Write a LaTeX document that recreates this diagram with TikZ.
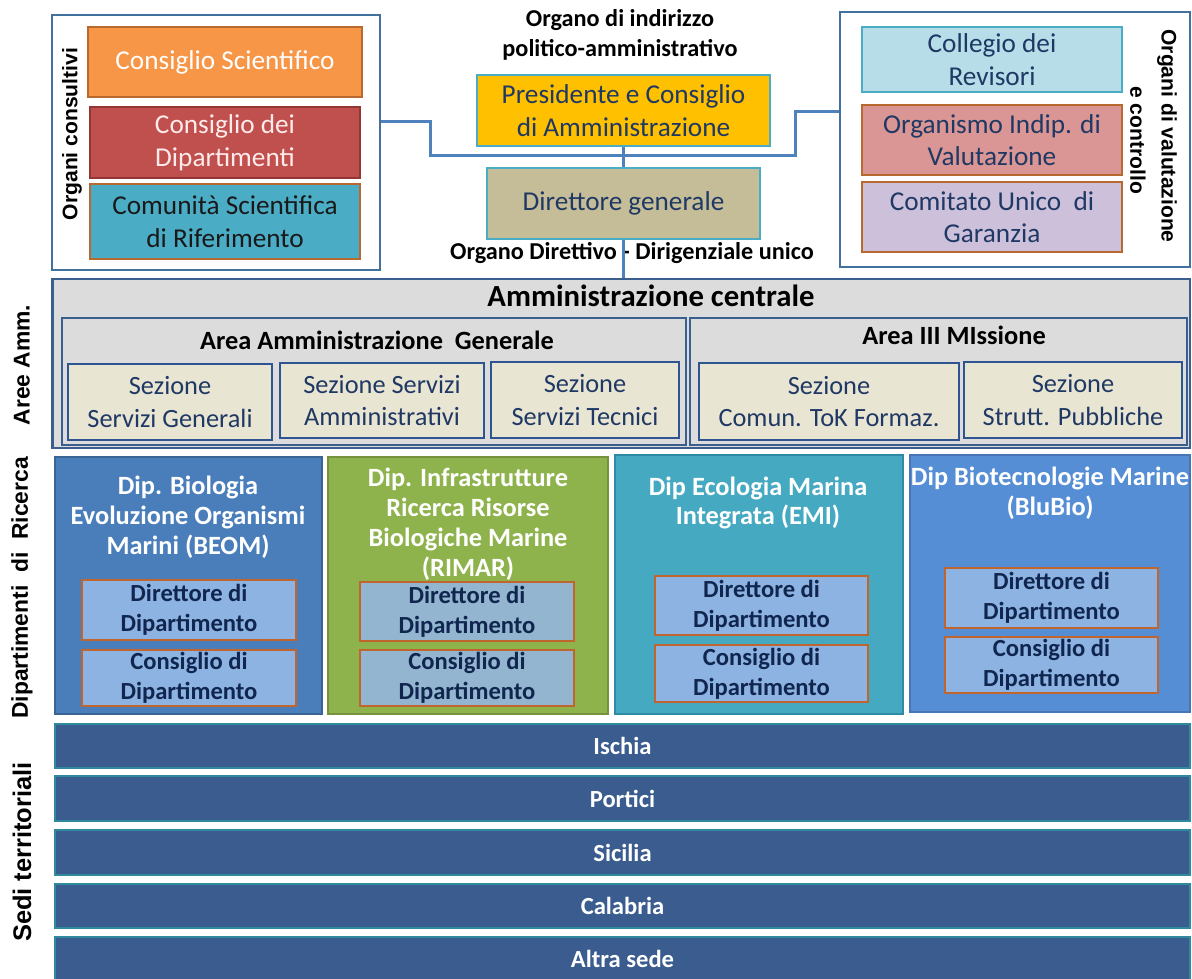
\documentclass[tikz,border=0pt]{standalone}
\usepackage{fontspec}
\setmainfont{Carlito}
\newfontfamily\sidefont{Liberation Sans}

\definecolor{frameblue}{HTML}{41719C}
\definecolor{linkblue}{HTML}{4F81BD}
\definecolor{orangefill}{HTML}{F79646}
\definecolor{brownline}{HTML}{B8692F}
\definecolor{redfill}{HTML}{C0504D}
\definecolor{redline}{HTML}{943634}
\definecolor{tealfill}{HTML}{4BACC6}
\definecolor{cyanfill}{HTML}{B7DEE8}
\definecolor{pinkfill}{HTML}{DA9694}
\definecolor{lavfill}{HTML}{CCC0DA}
\definecolor{goldfill}{HTML}{FFC000}
\definecolor{khakifill}{HTML}{C4BD97}
\definecolor{navytext}{HTML}{1F3864}
\definecolor{ammgray}{HTML}{DCDCDC}
\definecolor{ammline}{HTML}{3A5F8F}
\definecolor{creamfill}{HTML}{E9E5D3}
\definecolor{sezline}{HTML}{2E5491}
\definecolor{beomfill}{HTML}{4A7EBB}
\definecolor{beomline}{HTML}{3A6494}
\definecolor{rimarfill}{HTML}{8FB34C}
\definecolor{rimarline}{HTML}{76923C}
\definecolor{emifill}{HTML}{46A9C2}
\definecolor{emiline}{HTML}{2F8BA3}
\definecolor{blubiofill}{HTML}{558ED5}
\definecolor{blubioline}{HTML}{4676B6}
\definecolor{innerfill}{HTML}{8DB3E2}
\definecolor{innergray}{HTML}{93B5D0}
\definecolor{innerline}{HTML}{C0652D}
\definecolor{innertext}{HTML}{10264F}
\definecolor{sedefill}{HTML}{3A5C8E}
\definecolor{sedeline}{HTML}{2E8A9C}

\tikzset{
  box/.style={draw, line width=1.6pt, align=center, inner sep=0pt},
  topbox/.style={box, font=\fontsize{15.5}{18.5}\selectfont},
  sezbox/.style={box, draw=sezline, fill=creamfill, text=navytext, font=\fontsize{15}{18.7}\selectfont},
  dipbox/.style={box, line width=1.4pt},
  dirbox/.style={box, fill=innerfill, draw=innerline, text=innertext, minimum width=4.28cm, font=\bfseries\fontsize{14}{17}\selectfont},
  sedebox/.style={box, line width=1.2pt, fill=sedefill, draw=sedeline, text=white, minimum width=22.7cm, font=\bfseries\fontsize{14}{17}\selectfont},
  diptitle/.style={align=center, text=white, font=\bfseries\fontsize{15}{17}\selectfont},
  boldtitle/.style={align=center, font=\bfseries\fontsize{15}{18}\selectfont},
  caption/.style={align=center, font=\bfseries\fontsize{13.8}{17}\selectfont},
  sidelab/.style={font=\sidefont\bfseries\fontsize{13}{15}\selectfont},
  link/.style={draw=linkblue, line width=1.7pt}
}

\begin{document}
\begin{tikzpicture}[x=0.02cm, y=-0.02cm]
%%%%% START %%%%%
\path[use as bounding box, fill=white] (0,0) rectangle (1192,978);

% organi consultivi
\node[box, draw=frameblue, fill=white, minimum width=6.56cm, minimum height=5.1cm] (consult) at (216,142.5) {};
\node[topbox, fill=orangefill, draw=brownline, text=white, minimum width=5.48cm, minimum height=1.4cm] (cscient) at (225,62) {Consiglio Scientifico};
\node[topbox, fill=redfill, draw=redline, text=red!8, minimum width=5.4cm, minimum height=1.42cm] (cdip) at (225,142.5) {Consiglio dei\\Dipartimenti};
\node[topbox, fill=tealfill, draw=brownline, text=black!90, minimum width=5.4cm, minimum height=1.5cm] (comunita) at (225,221.5) {Comunità Scientifica\\di Riferimento};
\node[sidelab, font=\sidefont\bfseries\fontsize{12}{14}\selectfont, rotate=90] (lblcons) at (72,134) {Organi consultivi};

% organi di valutazione
\node[box, draw=frameblue, fill=white, minimum width=7cm, minimum height=5.1cm] (valut) at (1015,139.5) {};
\node[topbox, fill=cyanfill, draw=tealfill, text=navytext, minimum width=5.2cm, minimum height=1.3cm] (collegio) at (992,59.5) {Collegio dei\\Revisori};
\node[topbox, fill=pinkfill, draw=brownline, text=navytext, minimum width=5.2cm, minimum height=1.4cm] (oiv) at (992,140) {Organismo Indip. di\\Valutazione};
\node[topbox, fill=lavfill, draw=brownline, text=navytext, minimum width=5.2cm, minimum height=1.4cm] (cug) at (992,217) {Comitato Unico~~di\\Garanzia};
\node[sidelab, font=\sidefont\bfseries\fontsize{12}{14}\selectfont, rotate=-90] (lblval) at (1167,136) {Organi di valutazione};
\node[sidelab, font=\sidefont\bfseries\fontsize{12}{14}\selectfont, rotate=-90] (lblctrl) at (1138,140) {e controllo};

% vertice
\node[caption] (capind) at (620,35) {Organo di indirizzo\\politico-amministrativo};
\node[topbox, fill=goldfill, draw=tealfill, text=navytext, minimum width=5.86cm, minimum height=1.42cm] (pres) at (623.5,110.5) {Presidente e Consiglio\\di Amministrazione};
\node[topbox, fill=khakifill, draw=tealfill, text=navytext, minimum width=5.46cm, minimum height=1.42cm] (dirgen) at (623.5,203.5) {Direttore generale};
\node[caption] (capdir) at (632,253) {Organo Direttivo - Dirigenziale unico};

\coordinate (lj) at (430,121);
\coordinate (mid) at (623,155);
\coordinate (rj) at (795,111);
\draw[link] (consult.east |- lj) -- (lj) -- (lj |- mid) -- (rj |- mid) -- (rj) -- (valut.west |- rj);
\draw[link] (pres.south) -- (dirgen.north);

% amministrazione centrale
\node[box, draw=ammline, fill=ammgray, minimum width=22.76cm, minimum height=3.38cm] (ammc) at (621,363.5) {};
\draw[link] (dirgen.south) -- (dirgen.south |- ammc.north);
\node[boldtitle, font=\bfseries\fontsize{17.5}{20}\selectfont] (ammctitle) at (651,296) {Amministrazione centrale};

\node[box, draw=ammline, fill=ammgray, minimum width=12.48cm, minimum height=2.54cm] (areagen) at (374,381.5) {};
\node[boldtitle] (areagentitle) at (377,340) {Area Amministrazione~~Generale};
\node[box, draw=ammline, fill=ammgray, minimum width=9.94cm, minimum height=2.54cm] (area3) at (938.5,381.5) {};
\node[boldtitle] (area3title) at (954,335) {Area III MIssione};

\node[sezbox, minimum width=4.08cm, minimum height=1.52cm] (sezgen) at (170,402) {Sezione\\Servizi~Generali};
\node[sezbox, minimum width=4.08cm, minimum height=1.5cm] (sezamm) at (382,400.5) {Sezione Servizi\\Amministrativi};
\node[sezbox, minimum width=3.76cm, minimum height=1.52cm] (seztec) at (585,400) {Sezione\\Servizi Tecnici};
\node[sezbox, minimum width=5.2cm, minimum height=1.54cm] (sezcom) at (829,401.5) {Sezione\\Comun. ToK Formaz.};
\node[sezbox, minimum width=4.36cm, minimum height=1.52cm] (sezstr) at (1073,400) {Sezione\\Strutt. Pubbliche};

\node[sidelab, rotate=90] (lblaree) at (22,365) {Aree Amm.};

% dipartimenti
\node[dipbox, fill=beomfill, draw=beomline, minimum width=5.34cm, minimum height=5.14cm] (beom) at (188.5,585.5) {};
\node[diptitle] (beomtitle) at (188,517) {Dip. Biologia\\Evoluzione Organismi\\Marini (BEOM)};
\node[dirbox, minimum height=1.2cm] (beomdir) at (189,610) {Direttore di\\Dipartimento};
\node[dirbox, minimum height=1.12cm] (beomcons) at (189,678) {Consiglio di\\Dipartimento};

\node[dipbox, fill=rimarfill, draw=rimarline, minimum width=5.6cm, minimum height=5.14cm] (rimar) at (468,585.5) {};
\node[diptitle] (rimartitle) at (468,524) {Dip. Infrastrutture\\Ricerca Risorse\\Biologiche Marine\\(RIMAR)};
\node[dirbox, fill=innergray, minimum height=1.18cm] (rimardir) at (467,611.5) {Direttore di\\Dipartimento};
\node[dirbox, fill=innergray, minimum height=1.12cm] (rimarcons) at (467,678) {Consiglio di\\Dipartimento};

\node[dipbox, fill=emifill, draw=emiline, minimum width=5.76cm, minimum height=5.18cm] (emi) at (759,584.5) {};
\node[diptitle] (emititle) at (758,503) {Dip Ecologia Marina\\Integrata (EMI)};
\node[dirbox, minimum width=4.26cm, minimum height=1.18cm] (emidir) at (761.5,605.5) {Direttore di\\Dipartimento};
\node[dirbox, minimum width=4.26cm, minimum height=1.14cm] (emicons) at (761.5,673.5) {Consiglio di\\Dipartimento};

\node[dipbox, fill=blubiofill, draw=blubioline, minimum width=5.6cm, minimum height=5.14cm] (blubio) at (1050,583.5) {};
\node[diptitle] (blubiotitle) at (1050,493) {Dip Biotecnologie Marine\\(BluBio)};
\node[dirbox, minimum width=4.26cm, minimum height=1.2cm] (blubiodir) at (1051.5,598) {Direttore di\\Dipartimento};
\node[dirbox, minimum width=4.26cm, minimum height=1.12cm] (blubiocons) at (1051.5,665) {Consiglio di\\Dipartimento};

\node[sidelab, rotate=90] (lbldip) at (22,588) {Dipartimenti~~di~~Ricerca};

% sedi territoriali
\node[sedebox, minimum height=0.88cm] (ischia) at (622.5,746) {Ischia};
\node[sedebox, minimum height=0.9cm] (portici) at (622.5,798.5) {Portici};
\node[sedebox, minimum height=0.9cm] (sicilia) at (622.5,852.5) {Sicilia};
\node[sedebox, minimum height=0.88cm] (calabria) at (622.5,906) {Calabria};
\node[sedebox, minimum height=0.86cm] (altra) at (622.5,958.5) {Altra sede};

\node[sidelab, font=\sidefont\bfseries\fontsize{14.5}{16}\selectfont, rotate=90] (lblsedi) at (22,852) {Sedi territoriali};
%%%%% END %%%%%
\end{tikzpicture}
\end{document}
